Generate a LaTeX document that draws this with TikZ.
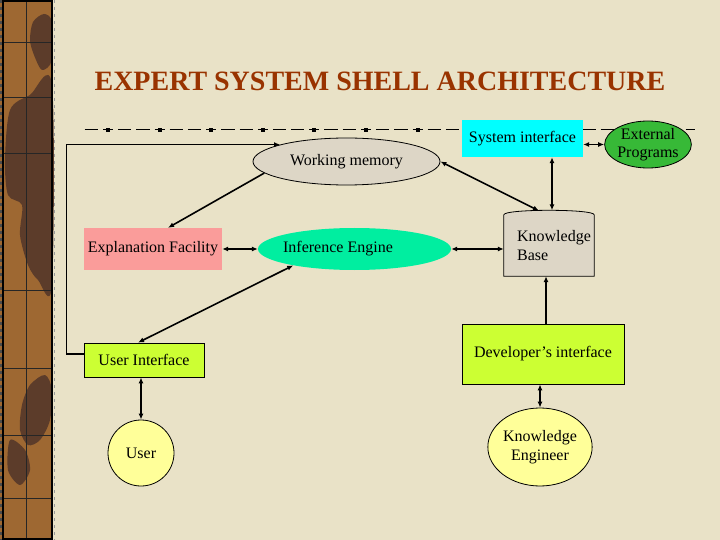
\documentclass[tikz,border=0pt]{standalone}
\usepackage{fontspec}
\setmainfont{Liberation Serif}
\usetikzlibrary{shapes.geometric,arrows.meta}

\definecolor{paper}{RGB}{233,226,199}
\definecolor{strip}{RGB}{158,104,50}
\definecolor{stripdark}{RGB}{92,60,42}
\definecolor{titlered}{RGB}{153,51,0}
\definecolor{wmgray}{RGB}{221,214,198}
\definecolor{efpink}{RGB}{250,156,154}
\definecolor{iegreen}{RGB}{0,238,160}
\definecolor{uilime}{RGB}{204,255,51}
\definecolor{sicyan}{RGB}{0,255,255}
\definecolor{epgreen}{RGB}{55,185,55}
\definecolor{pale}{RGB}{255,255,153}

\begin{document}
\begin{tikzpicture}[x=1pt,y=-1pt,
    every node/.style={font=\fontsize{16}{18.5}\selectfont,inner sep=0pt,align=center},
    rbox/.style={rectangle,fill=#1},
    oval/.style={ellipse,fill=#1},
    thin edge/.style={draw=black,line width=0.8pt},
    conn/.style={line width=1.6pt},
    >={Latex[length=6pt,width=5pt]}]
  \useasboundingbox (0,0) rectangle (720,540);
  \fill[paper] (0,0) rectangle (720,540);

  % left strip
  \fill[strip] (0,0) rectangle (53,540);
  \fill[stripdark] plot[smooth cycle] coordinates {(33,22) (44,14) (52,22) (52,60) (42,70) (34,55) (30,40)};
  \fill[stripdark] plot[smooth cycle] coordinates {(52,85) (30,95) (10,110) (5,160) (8,195) (22,205) (20,235) (28,265) (38,280) (52,285)};
  \fill[stripdark] plot[smooth cycle] coordinates {(30,385) (45,375) (52,390) (50,420) (40,440) (28,445) (20,430) (22,405)};
  \fill[stripdark] plot[smooth cycle] coordinates {(10,440) (25,450) (30,470) (20,485) (8,470)};
  \draw[black!85,line width=0.8pt] (26,0) -- (26,540);
  \foreach \y in {42,97,153,290,368,435,498}
    \draw[black!85,line width=0.8pt] (4,\y) -- (52,\y);
  \draw[black,line width=2pt] (3,1) rectangle (52,539);
  \draw[black!70,line width=1.5pt,dash pattern=on 3pt off 4pt] (1,0) -- (1,540);
  \draw[black!40,line width=1.5pt,dash pattern=on 3pt off 4pt] (54.5,0) -- (54.5,540);

  % dashed rule
  \draw[line width=1pt,dash pattern=on 10pt off 5pt on 13.3pt off 5pt on 13.3pt off 5pt,dash phase=32.6pt] (84,130) -- (695,130);
  \foreach \i in {0,...,6}
    \fill (106+51.6*\i,128) rectangle +(4,4);

  \node[font=\fontsize{28}{30}\selectfont\bfseries,text=titlered] (title) at (380,81) {EXPERT SYSTEM SHELL ARCHITECTURE};

  % nodes
  \node[rbox=sicyan,minimum width=121pt,minimum height=37pt] (si) at (522.5,138.5) {System interface};
  \node[oval=epgreen,thin edge,minimum width=82pt,minimum height=47pt] (ep) at (648,144.5) {External\\Programs};
  \node[oval=wmgray,thin edge,minimum width=187pt,minimum height=47pt] (wm) at (346.5,161.5) {Working memory};
  \node[rbox=efpink,minimum width=138pt,minimum height=42pt] (ef) at (153,249) {Explanation Facility};
  \node[oval=iegreen,minimum width=193pt,minimum height=42pt] (ie) at (354.5,249) {\hspace*{-33pt}Inference Engine};
  \node[rbox=wmgray,minimum width=90pt,minimum height=61pt,align=left] (kb) at (549,245.5) {\hspace*{10pt}Knowledge\\\hspace*{10pt}Base};
  \fill[wmgray] (kb.north west) .. controls ([yshift=6pt]kb.north west) and ([yshift=6pt]kb.north east) .. (kb.north east) -- cycle;
  \draw[thin edge] (kb.north west) .. controls ([yshift=6pt]kb.north west) and ([yshift=6pt]kb.north east) .. (kb.north east)
    -- (kb.south east) -- (kb.south west) -- cycle;
  \node[rbox=uilime,thin edge,minimum width=120pt,minimum height=34pt] (ui) at (144,360) {User Interface};
  \node[oval=pale,thin edge,minimum width=66pt,minimum height=66pt] (user) at (141,453) {User};
  \node[rbox=uilime,thin edge,minimum width=162pt,minimum height=60pt] (di) at (543,354) {Developer's interface};
  \node[oval=pale,thin edge,minimum width=84pt,minimum height=78pt] (ke) at (540,447) {Knowledge\\Engineer};

  % connectors
  \draw[conn,->] ([yshift=6pt]ui.west) -- ++(-17,0) |- (wm.north west);
  \path[conn]
    (wm.188) edge[->] ([xshift=15pt]ef.north)
    (ef.east) edge[<->] (ie.west)
    (ie.195) edge[<->] ([xshift=-6pt]ui.north)
    (wm.east) edge[<->] ([xshift=-10pt,yshift=4pt]kb.north)
    ([xshift=29.5pt]si.south) edge[<->] ([xshift=3pt,yshift=4.5pt]kb.north)
    (si.east |- ep.west) edge[<->] (ep.west)
    (ie.east) edge[<->] (ie.east -| kb.west)
    ([xshift=3pt]di.north) edge[->] ([xshift=3pt]di.north |- kb.south)
    (ke.north) edge[<->] (ke.north |- di.south)
    (user.north) edge[<->] (user.north |- ui.south);
\end{tikzpicture}
\end{document}
